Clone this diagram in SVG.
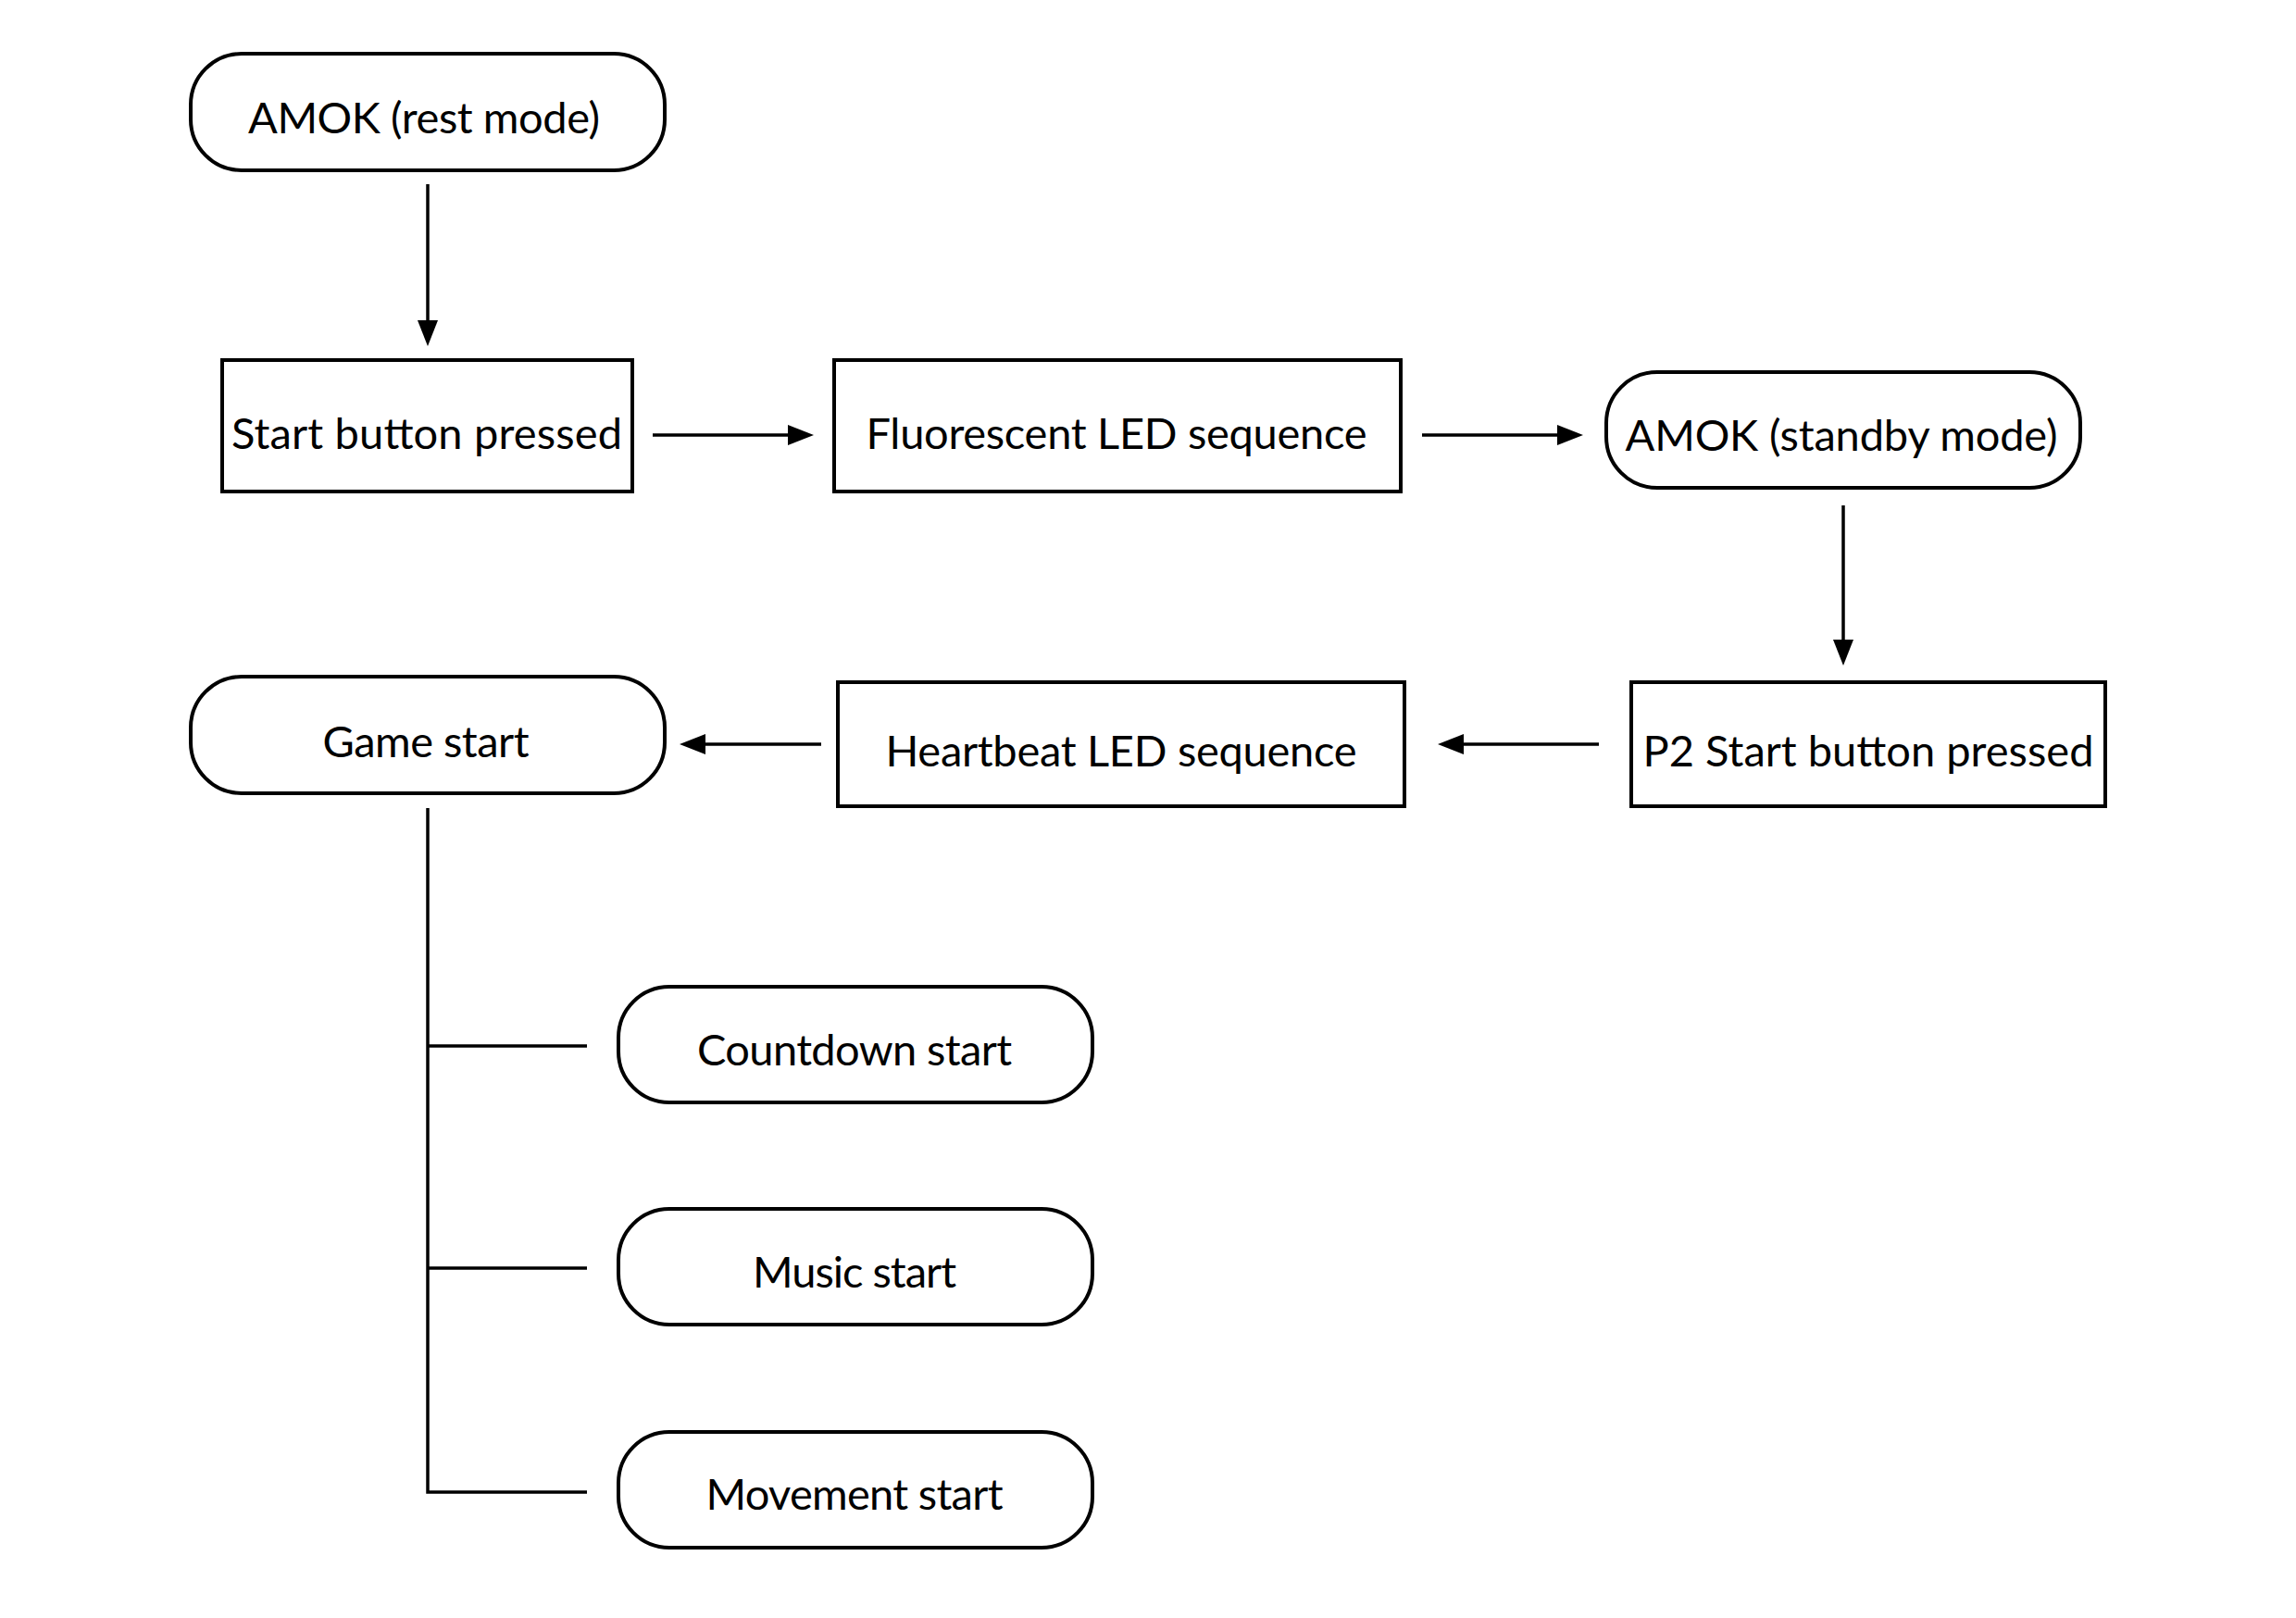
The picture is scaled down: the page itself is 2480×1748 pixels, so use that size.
<svg xmlns="http://www.w3.org/2000/svg" width="2480" height="1748" viewBox="0 0 2480 1748">
<defs>
<style>
.box{fill:#fff;stroke:#000;stroke-width:4}
.t{font-family:Lato,"Noto Sans","Liberation Sans",sans-serif;font-size:47px;fill:#000;text-anchor:middle}
.c{fill:none;stroke:#000;stroke-width:3.5}
.a{fill:none;stroke:#000;stroke-width:3.5}
.h{fill:#000}
</style>
</defs>
<rect width="2480" height="1748" fill="#fff"/>
<g id="connectors">
<line class="a" x1="462" y1="199" x2="462" y2="346"/><path class="h" d="M451,346 L473,346 L462,374 Z"/>
<line class="a" x1="705" y1="470" x2="851" y2="470"/><path class="h" d="M851,459 L851,481 L879,470 Z"/>
<line class="a" x1="1536" y1="470" x2="1682" y2="470"/><path class="h" d="M1682,459 L1682,481 L1710,470 Z"/>
<line class="a" x1="1991" y1="546" x2="1991" y2="691"/><path class="h" d="M1980,691 L2002,691 L1991,719 Z"/>
<line class="a" x1="1727" y1="804" x2="1581" y2="804"/><path class="h" d="M1581,793 L1581,815 L1553,804 Z"/>
<line class="a" x1="887" y1="804" x2="762" y2="804"/><path class="h" d="M762,793 L762,815 L734,804 Z"/>
<polyline class="c" points="462,873 462,1612 634,1612"/>
<line class="c" x1="462" y1="1130" x2="634" y2="1130"/>
<line class="c" x1="462" y1="1370" x2="634" y2="1370"/>
</g>
<g id="n1"><rect class="box" x="206" y="58" width="512" height="126" rx="55"/><text class="t" x="458" y="144" textLength="380">AMOK (rest mode)</text></g>
<g id="n2"><rect class="box" x="240" y="389" width="443" height="142"/><text class="t" x="461" y="485" textLength="422">Start button pressed</text></g>
<g id="n3"><rect class="box" x="901" y="389" width="612" height="142"/><text class="t" x="1206" y="485" textLength="541">Fluorescent LED sequence</text></g>
<g id="n4"><rect class="box" x="1735" y="402" width="512" height="125" rx="55"/><text class="t" x="1989" y="487" textLength="467">AMOK (standby mode)</text></g>
<g id="n5"><rect class="box" x="1762" y="737" width="512" height="134"/><text class="t" x="2018" y="828" textLength="487">P2 Start button pressed</text></g>
<g id="n6"><rect class="box" x="905" y="737" width="612" height="134"/><text class="t" x="1211" y="828" textLength="509">Heartbeat LED sequence</text></g>
<g id="n7"><rect class="box" x="206" y="731" width="512" height="126" rx="55"/><text class="t" x="460" y="818" textLength="223">Game start</text></g>
<g id="n8"><rect class="box" x="668" y="1066" width="512" height="125" rx="55"/><text class="t" x="923" y="1151" textLength="340">Countdown start</text></g>
<g id="n9"><rect class="box" x="668" y="1306" width="512" height="125" rx="55"/><text class="t" x="923" y="1391" textLength="220">Music start</text></g>
<g id="n10"><rect class="box" x="668" y="1547" width="512" height="125" rx="55"/><text class="t" x="923" y="1631" textLength="321">Movement start</text></g>
</svg>
